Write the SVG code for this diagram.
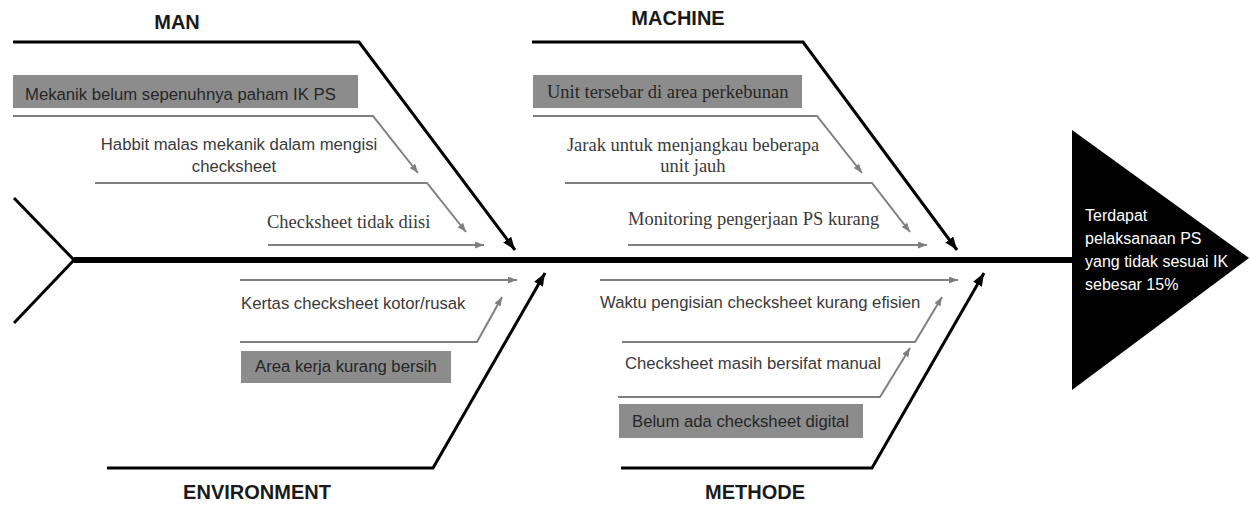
<svg xmlns="http://www.w3.org/2000/svg" width="1250" height="505" viewBox="0 0 1250 505">
<style>
.bg{fill:#ffffff}
.main{fill:none;stroke:#000;stroke-width:3;stroke-linejoin:miter}
.sub{fill:none;stroke:#7f7f7f;stroke-width:2}
.spine{fill:none;stroke:#000;stroke-width:6}
.box{fill:#8c8c8c}
.sans{font-family:"Liberation Sans",Arial,sans-serif;font-size:16.7px;fill:#3a3a3a}
.serif{font-family:"Liberation Serif","Times New Roman",serif;font-size:18.5px;fill:#3a3a3a}
.boxt{fill:#262626}
.cat{font-family:"Liberation Sans",Arial,sans-serif;font-size:20px;font-weight:bold;fill:#1a1a1a;text-anchor:middle}
.head{font-family:"Liberation Sans",Arial,sans-serif;font-size:16px;fill:#ffffff}
</style>
<defs>
<marker id="ab" markerUnits="userSpaceOnUse" markerWidth="14" markerHeight="12" refX="13" refY="5" orient="auto">
<path d="M0,0 L13,5 L0,10 z" fill="#000"/>
</marker>
<marker id="ag" markerUnits="userSpaceOnUse" markerWidth="10" markerHeight="8" refX="9" refY="3.5" orient="auto">
<path d="M0,0 L9,3.5 L0,7 z" fill="#7f7f7f"/>
</marker>
</defs>
<rect class="bg" x="0" y="0" width="1250" height="505"/>

<g id="connectors">
<line class="spine" x1="74" y1="260" x2="1075" y2="260"/>
<polyline class="main" points="14,198 74,260 14,323"/>
<polyline class="main" points="13,42 359,42 515,250" marker-end="url(#ab)"/>
<polyline class="sub" points="13,116 373,116 418,173" marker-end="url(#ag)"/>
<polyline class="sub" points="95,183 427,183 466,232" marker-end="url(#ag)"/>
<line class="sub" x1="268" y1="245" x2="484" y2="245" marker-end="url(#ag)"/>
<polyline class="main" points="532,42 803,42 957,250" marker-end="url(#ab)"/>
<polyline class="sub" points="533,116 817,116 862,173" marker-end="url(#ag)"/>
<polyline class="sub" points="565,183 872,183 910,232" marker-end="url(#ag)"/>
<line class="sub" x1="628" y1="245" x2="927" y2="245" marker-end="url(#ag)"/>
<polyline class="main" points="107,468 433,468 545,273" marker-end="url(#ab)"/>
<line class="sub" x1="240" y1="280" x2="517" y2="280" marker-end="url(#ag)"/>
<polyline class="sub" points="240,342 477,342 502,297" marker-end="url(#ag)"/>
<polyline class="main" points="621,468 872,468 984,273" marker-end="url(#ab)"/>
<line class="sub" x1="600" y1="280" x2="958" y2="280" marker-end="url(#ag)"/>
<polyline class="sub" points="622,342 915,342 942,297" marker-end="url(#ag)"/>
<polyline class="sub" points="618,397 880,397 910,348" marker-end="url(#ag)"/>
</g>

<g id="head">
<polygon points="1072,130 1249,258 1072,390" fill="#000"/>
<text class="head" x="1085" y="221">Terdapat</text>
<text class="head" x="1085" y="244">pelaksanaan PS</text>
<text class="head" x="1085" y="267">yang tidak sesuai IK</text>
<text class="head" x="1085" y="290">sebesar 15%</text>
</g>

<g id="cat-man"><text class="cat" x="177" y="29">MAN</text></g>
<g id="cat-machine"><text class="cat" x="678" y="25">MACHINE</text></g>
<g id="cat-environment"><text class="cat" x="257" y="499">ENVIRONMENT</text></g>
<g id="cat-methode"><text class="cat" x="755" y="499">METHODE</text></g>

<g id="man-1">
<rect class="box" x="13" y="75" width="345" height="33"/>
<text class="sans boxt" x="25" y="100">Mekanik belum sepenuhnya paham IK PS</text>
</g>
<g id="man-2">
<text class="sans" x="239" y="150" text-anchor="middle">Habbit malas mekanik dalam mengisi</text>
<text class="sans" x="234" y="172" text-anchor="middle">checksheet</text>
</g>
<g id="man-3">
<text class="serif" x="267" y="228">Checksheet tidak diisi</text>
</g>

<g id="machine-1">
<rect class="box" x="533" y="75" width="269" height="33"/>
<text class="serif boxt" x="547" y="98">Unit tersebar di area perkebunan</text>
</g>
<g id="machine-2">
<text class="serif" x="693" y="151" text-anchor="middle">Jarak untuk menjangkau beberapa</text>
<text class="serif" x="693" y="172" text-anchor="middle">unit jauh</text>
</g>
<g id="machine-3">
<text class="serif" x="628" y="225">Monitoring pengerjaan PS kurang</text>
</g>

<g id="env-1">
<text class="sans" x="241" y="309">Kertas checksheet kotor/rusak</text>
</g>
<g id="env-2">
<rect class="box" x="241" y="351" width="210" height="32"/>
<text class="sans boxt" x="255" y="372">Area kerja kurang bersih</text>
</g>

<g id="met-1">
<text class="sans" x="600" y="308">Waktu pengisian checksheet kurang efisien</text>
</g>
<g id="met-2">
<text class="sans" x="625" y="369">Checksheet masih bersifat manual</text>
</g>
<g id="met-3">
<rect class="box" x="619" y="404" width="244" height="34"/>
<text class="sans boxt" x="632" y="427">Belum ada checksheet digital</text>
</g>
</svg>
